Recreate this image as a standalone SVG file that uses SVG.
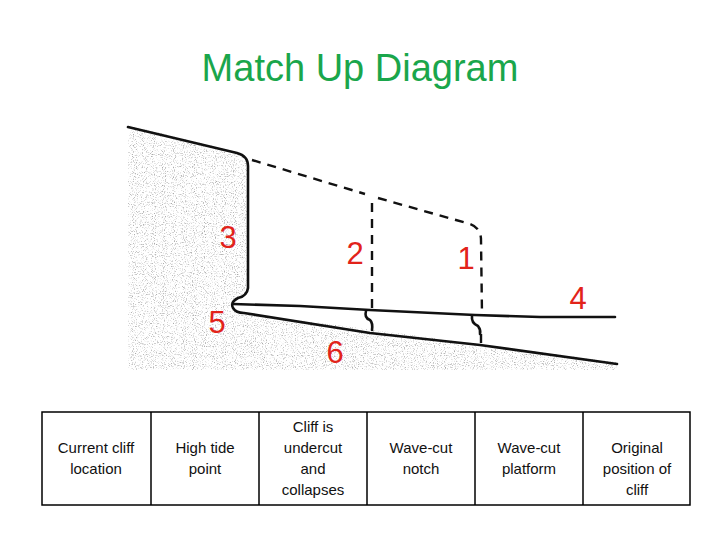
<svg xmlns="http://www.w3.org/2000/svg" width="720" height="540" viewBox="0 0 720 540">
<style>
.ln{fill:none;stroke:#111;stroke-width:2.6;stroke-linecap:round;stroke-linejoin:round}
.ds{fill:none;stroke:#111;stroke-width:2.4;stroke-dasharray:9 7}
.num{font-family:"Liberation Sans",Arial,sans-serif;font-size:31px;fill:#e2231a;text-anchor:middle}
.cell{fill:none;stroke:#000;stroke-width:1.5}
.tx{font-family:"Liberation Sans",Arial,sans-serif;font-size:15px;fill:#111;text-anchor:middle}
</style>
<defs>
<filter id="stip" x="0" y="0" width="1" height="1">
<feTurbulence type="fractalNoise" baseFrequency="0.9" numOctaves="2" seed="3" result="n"/>
<feColorMatrix in="n" type="matrix" values="0 0 0 0 0.4  0 0 0 0 0.4  0 0 0 0 0.4  0 0 0 -3.2 1.5" result="d"/>
<feComposite in="d" in2="SourceGraphic" operator="in"/>
</filter>
</defs>
<rect width="720" height="540" fill="#fff"/>
<text x="360" y="81" font-family="Liberation Sans,Arial,sans-serif" font-size="38" fill="#1aa64b" text-anchor="middle">Match Up Diagram</text>
<g id="ground">
<path d="M128,125 L237,152 Q248,156 248,166 L248,288 Q247,296 238,298 Q230,302 233,308 Q236,313 244,313 L617,362 L617,370 L128,370 Z" fill="#000" filter="url(#stip)"/>
</g>
<g id="connectors">
<path class="ln" d="M128,127 L237,153 Q248,156 248,166 L248,288 Q247,296 238,298 Q230,302 233,308 Q236,313 244,313 L370,333 L480,345 L617,364"/>
<path class="ln" stroke-width="2.2" d="M233,304 L300,306 L370,310 L475,315 L540,317 L615,317"/>
<path class="ds" d="M252,160 L365,194"/>
<path class="ds" d="M378,198 L470,224 Q481,228 481,240 L482,314"/>
<path class="ds" d="M372,203 L372,309"/>
<path class="ln" stroke-width="1.8" d="M366,311 Q364,318 370,320 Q373,323 372,330"/>
<path class="ln" stroke-width="1.8" d="M472,316 Q471,323 478,326 Q481,330 480,334"/>
<path class="ds" stroke-width="2" d="M481,334 L481,345"/>
</g>
<g id="labels">
<text class="num" x="228" y="248">3</text>
<text class="num" x="355" y="264">2</text>
<text class="num" x="466" y="269">1</text>
<text class="num" x="578" y="309">4</text>
<text class="num" x="217" y="333">5</text>
<text class="num" x="335" y="363">6</text>
</g>
<g id="table">
<rect class="cell" x="42" y="412" width="648" height="93"/>
<line class="cell" x1="151" y1="412" x2="151" y2="505"/>
<line class="cell" x1="259" y1="412" x2="259" y2="505"/>
<line class="cell" x1="367" y1="412" x2="367" y2="505"/>
<line class="cell" x1="475" y1="412" x2="475" y2="505"/>
<line class="cell" x1="583" y1="412" x2="583" y2="505"/>
<text class="tx" x="96" y="453">Current cliff</text><text class="tx" x="96" y="474">location</text>
<text class="tx" x="205" y="453">High tide</text><text class="tx" x="205" y="474">point</text>
<text class="tx" x="313" y="432">Cliff is</text><text class="tx" x="313" y="453">undercut</text><text class="tx" x="313" y="474">and</text><text class="tx" x="313" y="495">collapses</text>
<text class="tx" x="421" y="453">Wave-cut</text><text class="tx" x="421" y="474">notch</text>
<text class="tx" x="529" y="453">Wave-cut</text><text class="tx" x="529" y="474">platform</text>
<text class="tx" x="637" y="453">Original</text><text class="tx" x="637" y="474">position of</text><text class="tx" x="637" y="495">cliff</text>
</g>
</svg>
